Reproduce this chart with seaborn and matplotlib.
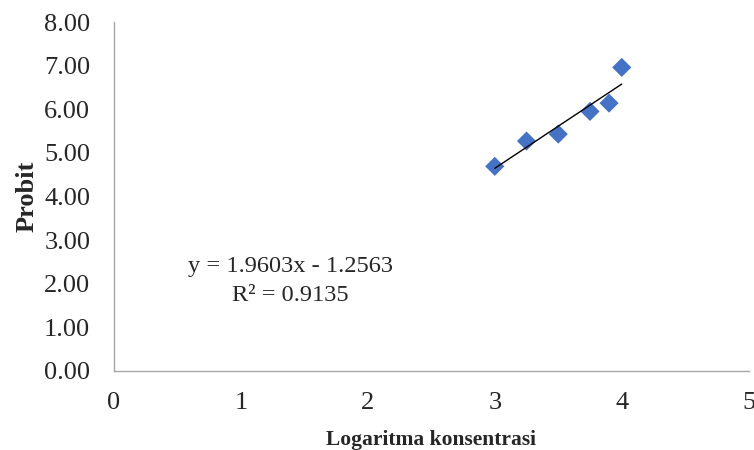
import numpy as np
import matplotlib
matplotlib.use("Agg")
import matplotlib.pyplot as plt
import seaborn as sns

# data
log_conc = [3.0, 3.25, 3.5, 3.75, 3.9, 4.0]
probit = [4.69, 5.27, 5.43, 5.95, 6.14, 6.96]
x_ticks = [0, 1, 2, 3, 4, 5]
y_ticks = [0, 1, 2, 3, 4, 5, 6, 7, 8]
eq_text = "y = 1.9603x - 1.2563"
r2_text = "R² = 0.9135"

sns.set_style("white")
plt.rcParams["font.family"] = ["Liberation Serif", "DejaVu Serif"]

fig = plt.figure(figsize=(7.54, 4.5), dpi=100)
ax = fig.add_axes([0.151, 0.176, 0.842, 0.775])

sns.scatterplot(x=log_conc, y=probit, marker="D", s=95, color="#4472C4",
                edgecolor="none", ax=ax, zorder=2)

# linear trend line over the data range
slope, intercept = np.polyfit(log_conc, probit, 1)
xs = np.array([min(log_conc), max(log_conc)])
sns.lineplot(x=xs, y=slope * xs + intercept, color="black", linewidth=1.0,
             ax=ax, zorder=3)

ax.text(1.39, 2.40, eq_text, ha="center", va="center", fontsize=17.6)
ax.text(1.39, 1.72, r2_text, ha="center", va="center", fontsize=17.6)

ax.set_xlim(0, 5)
ax.set_ylim(0, 8)
ax.set_xticks(x_ticks)
ax.set_yticks(y_ticks)
ax.set_yticklabels([f"{v:.2f}" for v in y_ticks])
ax.tick_params(axis="both", length=0, labelsize=19)
ax.tick_params(axis="y", pad=17)
ax.tick_params(axis="x", pad=15)

ax.set_xlabel("Logaritma konsentrasi", fontsize=15.5, fontweight="bold", labelpad=12)
ax.set_ylabel("Probit", fontsize=19, fontweight="bold", labelpad=4)

for side in ["top", "right"]:
    ax.spines[side].set_visible(False)
for side in ["left", "bottom"]:
    ax.spines[side].set_color("#A6A6A6")
    ax.spines[side].set_linewidth(1.0)

fig.savefig("out.png", dpi=100)
